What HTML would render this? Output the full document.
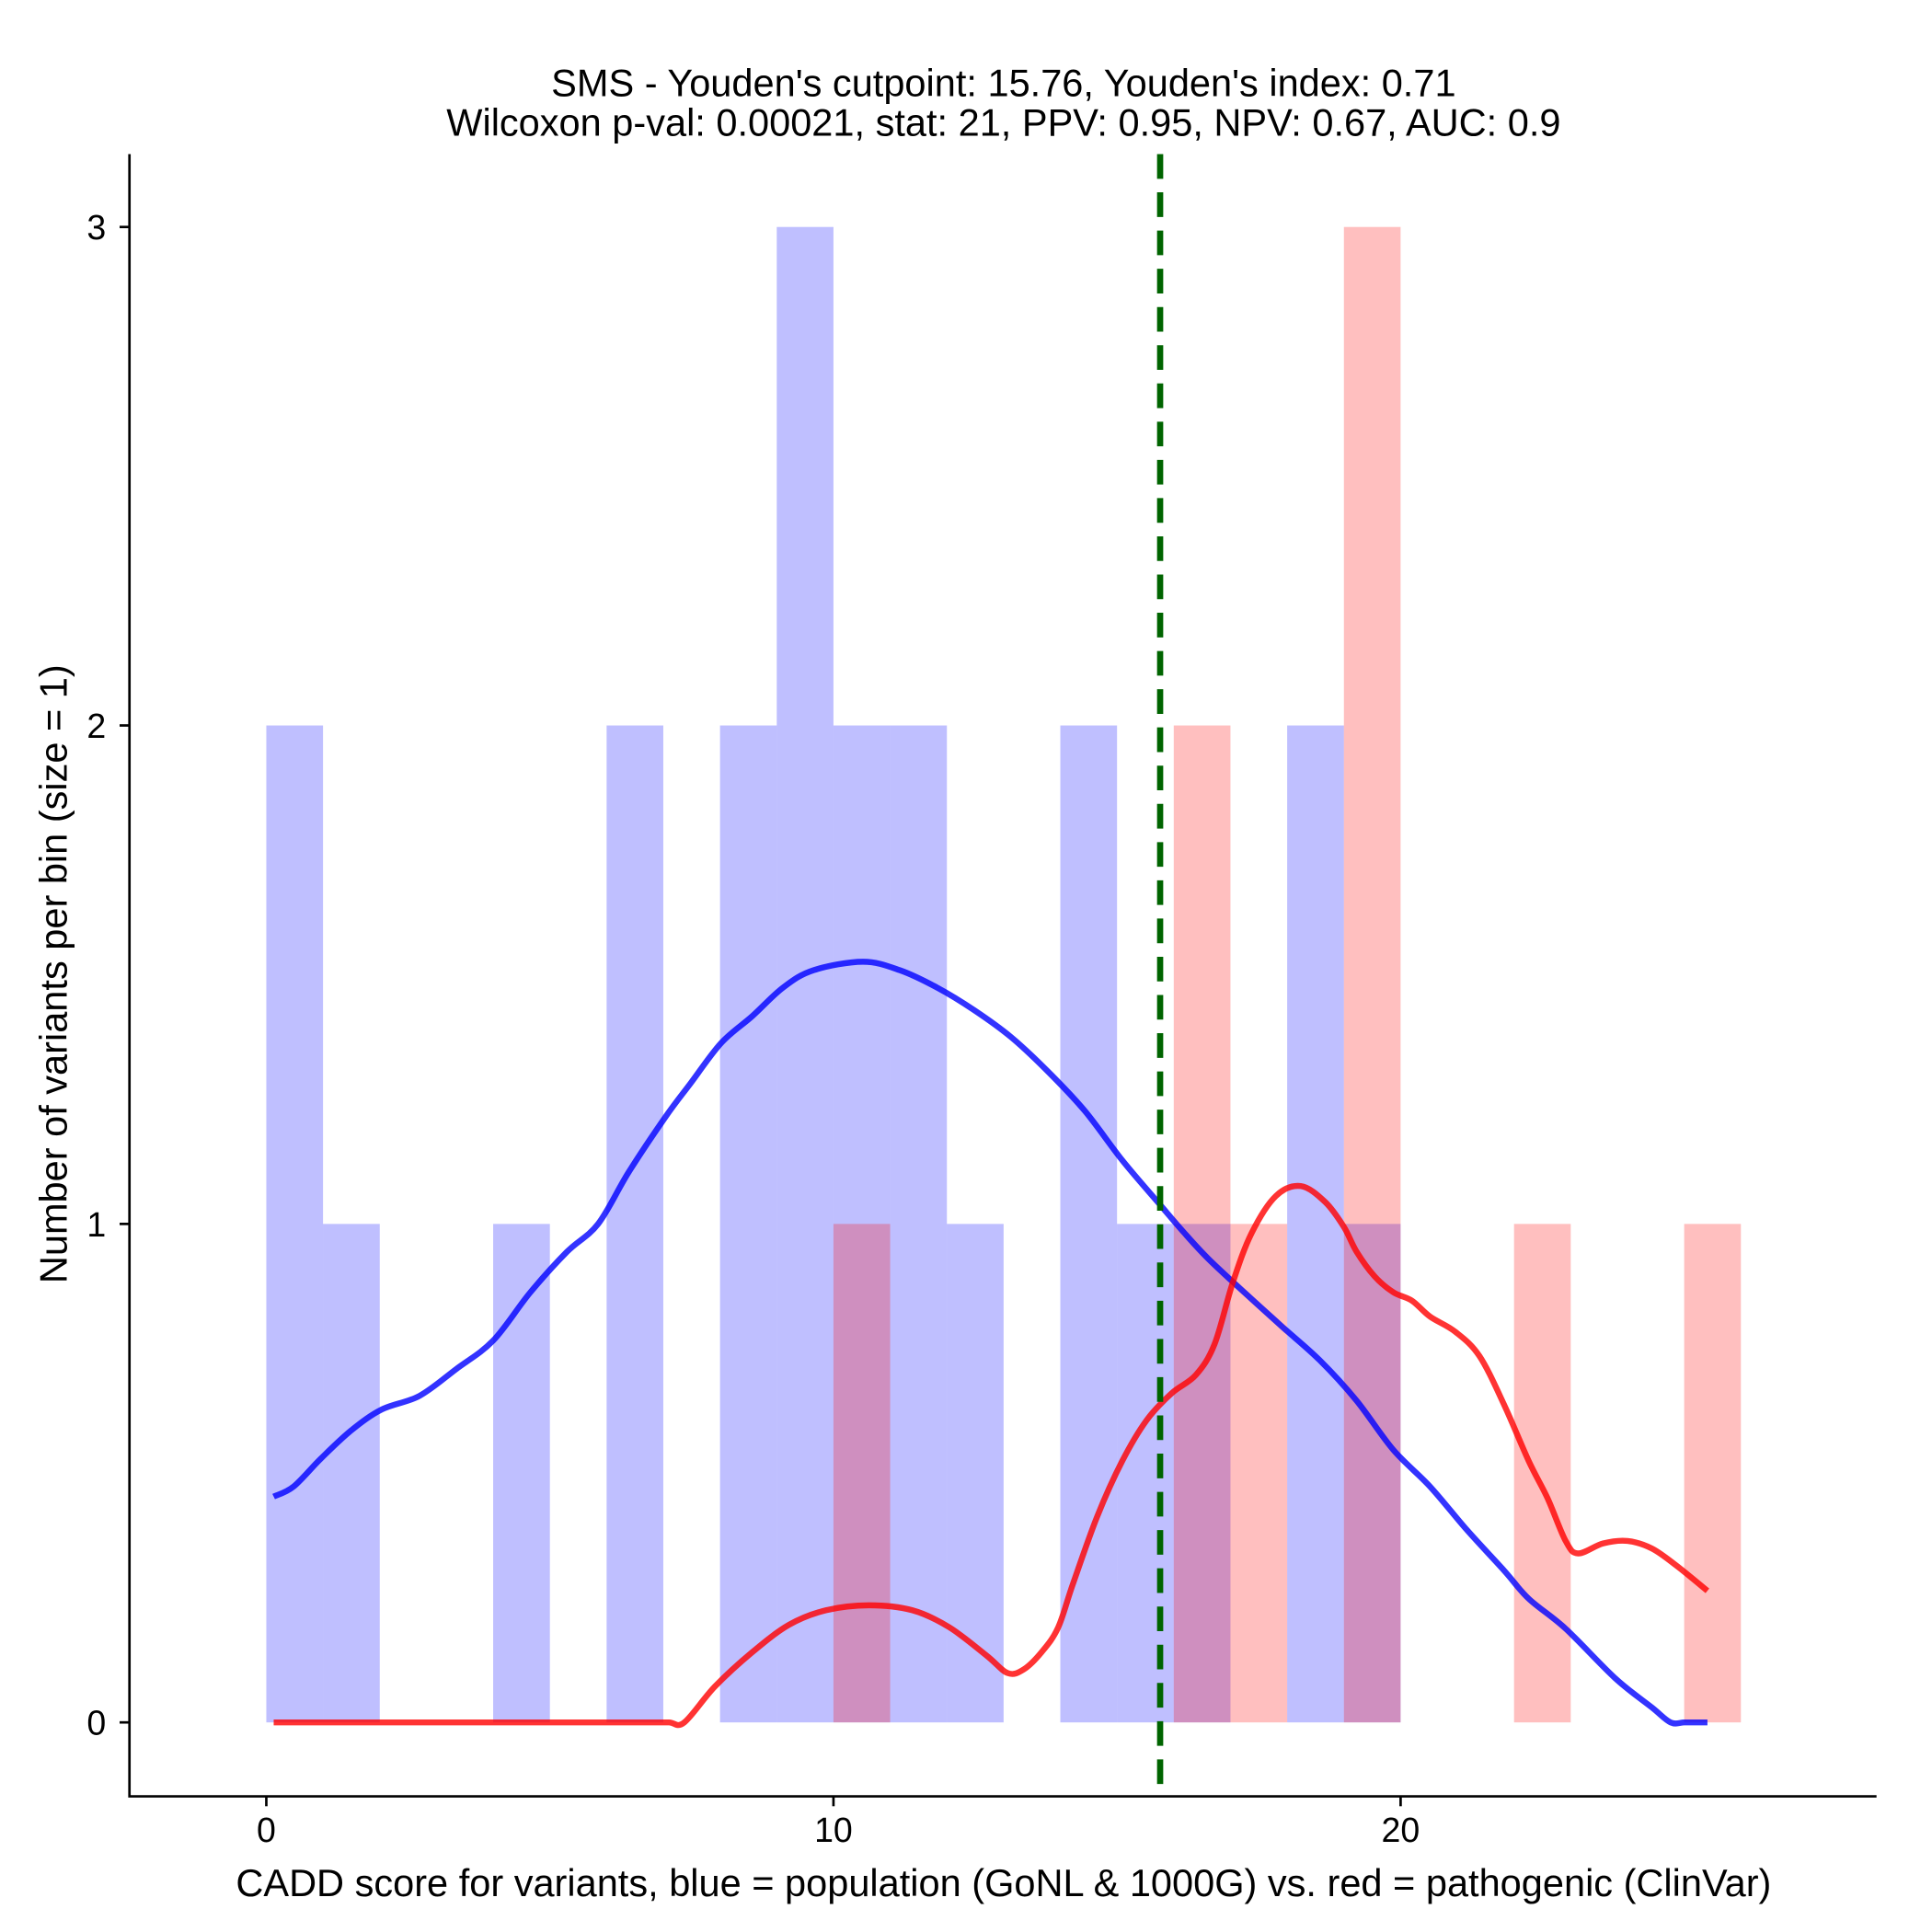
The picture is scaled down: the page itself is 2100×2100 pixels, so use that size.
<!DOCTYPE html>
<html><head><meta charset="utf-8"><style>html,body{margin:0;padding:0;background:#fff}svg{display:block}text{font-family:"Liberation Sans",Arial,sans-serif;fill:#000}</style></head>
<body>
<svg id="chart" width="2100" height="2100" viewBox="0 0 1567 1567" xmlns="http://www.w3.org/2000/svg">
<text x="814" y="78" font-size="31" text-anchor="middle">SMS - Youden's cutpoint: 15.76, Youden's index: 0.71</text>
<text x="814" y="110" font-size="31" text-anchor="middle">Wilcoxon p-val: 0.00021, stat: 21, PPV: 0.95, NPV: 0.67, AUC: 0.9</text>
<g id="bars"></g>
<g id="curves"></g>
<g id="axes"></g>
<text x="814" y="1538" font-size="31" text-anchor="middle">CADD score for variants, blue = population (GoNL &amp; 1000G) vs. red = pathogenic (ClinVar)</text>
<text transform="translate(54,790) rotate(-90)" font-size="31" text-anchor="middle">Number of variants per bin (size = 1)</text>
</svg>
<script>
const blueBins=[0,1,4,6,8,9,10,11,12,14,15,16,18,19];
const blueCounts=[2,1,1,2,2,3,2,2,1,2,1,1,2,1];
const redBins=[10,16,17,19,22,25];
const redCounts=[1,2,1,3,1,1];
const blueDensX=[0.13,0.48,0.96,1.5,2.04,2.7,3.35,4.0,4.65,5.3,5.85,6.39,7.04,7.48,8.02,8.57,9.11,9.65,10.52,11.17,11.83,12.48,13.13,13.78,14.43,15.09,15.74,16.17,16.61,17.26,17.91,18.57,19.22,19.87,20.52,21.17,21.83,22.26,22.91,23.78,24.43,24.76,25.0,25.2,25.41];
const blueDensY=[0.453,0.473,0.529,0.586,0.628,0.655,0.709,0.766,0.862,0.944,1.0,1.104,1.215,1.282,1.363,1.417,1.474,1.509,1.526,1.509,1.474,1.429,1.375,1.306,1.227,1.128,1.041,0.984,0.93,0.861,0.794,0.727,0.646,0.547,0.473,0.386,0.304,0.248,0.188,0.089,0.03,0,0,0,0];
const redDensX=[0.13,1,2,3,4,5,6,6.7,7.1,7.37,7.91,8.57,9.22,9.87,10.63,11.39,12.04,12.7,13.07,13.35,13.67,13.96,14.22,14.65,15.09,15.52,15.96,16.39,16.72,17.04,17.37,17.8,18.24,18.67,19.0,19.22,19.54,19.87,20.2,20.52,20.96,21.39,21.83,22.26,22.59,22.91,23.13,23.57,24.0,24.43,24.87,25.41];
const redDensY=[0,0,0,0,0,0,0,0,0,0,0.072,0.141,0.196,0.225,0.235,0.225,0.191,0.134,0.099,0.106,0.141,0.19,0.277,0.413,0.524,0.606,0.66,0.697,0.759,0.882,0.981,1.056,1.076,1.044,0.994,0.945,0.895,0.863,0.846,0.814,0.784,0.735,0.636,0.524,0.45,0.364,0.339,0.359,0.364,0.349,0.314,0.264];
const cutpoint=15.76;
const xTicks=[0,10,20];
const yTicks=[0,1,2,3];

const NS="http://www.w3.org/2000/svg";
const xs=v=>216+v*46;
const ys=v=>1397-v*404.3;
function mk(tag,attrs,parent){const e=document.createElementNS(NS,tag);for(const k in attrs)e.setAttribute(k,attrs[k]);parent.appendChild(e);return e;}
const bars=document.getElementById('bars'),curves=document.getElementById('curves'),axes=document.getElementById('axes');
blueBins.forEach((b,i)=>{const r=mk('rect',{x:xs(b),y:ys(blueCounts[i]),width:xs(b+1)-xs(b),height:ys(0)-ys(blueCounts[i]),fill:'#0000ff','fill-opacity':0.25},bars);

});
redBins.forEach((b,i)=>{const r=mk('rect',{x:xs(b),y:ys(redCounts[i]),width:xs(b+1)-xs(b),height:ys(0)-ys(redCounts[i]),fill:'#ff0000','fill-opacity':0.25},bars);

});
function smoothPath(X,Y){const P=X.map((x,i)=>[xs(x),ys(Y[i])]);let d='M'+P[0][0]+','+P[0][1];
for(let i=0;i<P.length-1;i++){const p0=P[Math.max(0,i-1)],p1=P[i],p2=P[i+1],p3=P[Math.min(P.length-1,i+2)];
const c1=[p1[0]+(p2[0]-p0[0])/6,p1[1]+(p2[1]-p0[1])/6],c2=[p2[0]-(p3[0]-p1[0])/6,p2[1]-(p3[1]-p1[1])/6];
d+=' C'+c1[0]+','+c1[1]+' '+c2[0]+','+c2[1]+' '+p2[0]+','+p2[1];}return d;}
function line(X,Y,col,name){const p=mk('path',{d:smoothPath(X,Y),fill:'none',stroke:col,'stroke-width':4.8,'stroke-linejoin':'round','stroke-opacity':0.8},curves);

}
line(blueDensX,blueDensY,'#0000ff','blue-density-curve');
line(redDensX,redDensY,'#ff0000','red-density-curve');
const cl=mk('line',{x1:xs(cutpoint),x2:xs(cutpoint),y1:125,y2:1457,stroke:'#006400','stroke-width':5,'stroke-dasharray':'20 11'},curves);


const ax=mk('path',{d:'M105,125 V1457 H1522',fill:'none',stroke:'#000','stroke-width':2},axes);


xTicks.forEach(t=>{const tk=mk('line',{x1:xs(t),x2:xs(t),y1:1457,y2:1465,stroke:'#000','stroke-width':2},axes);


const tl=mk('text',{x:xs(t),y:1494,'font-size':28,'text-anchor':'middle'},axes);tl.textContent=t;

});
yTicks.forEach(t=>{const tk=mk('line',{x1:97,x2:105,y1:ys(t),y2:ys(t),stroke:'#000','stroke-width':2},axes);


const tl=mk('text',{x:86,y:ys(t)+10,'font-size':28,'text-anchor':'end'},axes);tl.textContent=t;

});
</script>
</body></html>
